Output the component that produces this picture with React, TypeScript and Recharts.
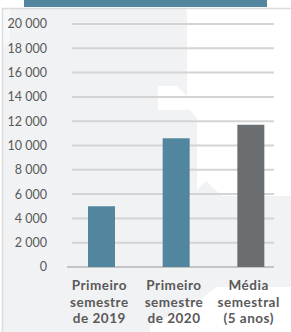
import React from "react";
import { BarChart, Bar, XAxis, YAxis, CartesianGrid, Cell } from "recharts";

const categories = [
  ["Primeiro", "semestre", "de 2019"],
  ["Primeiro", "semestre", "de 2020"],
  ["Média", "semestral", "(5 anos)"],
];
const values = [5000, 10600, 11700];
const barColors = ["#52869f", "#52869f", "#6b6e70"];
const yTicks = [0, 2000, 4000, 6000, 8000, 10000, 12000, 14000, 16000, 18000, 20000];

const data = categories.map((lines, i) => ({ name: lines.join(" "), lines, value: values[i] }));

const W = 291;
const H = 332;
const XH = 30;
const margin = { top: 24, right: 3, bottom: 35, left: 0 };
const baseY = H - margin.bottom - XH;

const fmt = (v: number) => String(v).replace(/\B(?=(\d{3})+(?!\d))/g, " ");

function XTick(props: any) {
  const { x, y, payload, index } = props;
  const lines = categories[index] ?? String(payload.value).split(" ");
  return (
    <text
      x={x - 2}
      y={y}
      textAnchor="middle"
      fill="#595959"
      fontSize={13.5}
      fontWeight={700}
      fontFamily="Lato"
      letterSpacing={0.5}
    >
      {lines.map((l: string, i: number) => (
        <tspan key={i} x={x - 2} dy={i === 0 ? 15 : 16.5}>
          {l}
        </tspan>
      ))}
    </text>
  );
}

function GridLine(props: any) {
  const { x1, x2, y1 } = props;
  const isBase = Math.abs(y1 - baseY) < 1;
  return (
    <line
      key={props.key}
      x1={isBase ? x1 + 3 : x1 + 8}
      x2={x2 - 14}
      y1={y1}
      y2={y1}
      stroke={isBase ? "#c4c4c4" : "#d4d4d4"}
      strokeWidth={2}
    />
  );
}

export default function App() {
  return (
    <div style={{ position: "absolute", left: 0, top: 0, width: W, height: H, background: "#fff" }}>
      <svg width={W} height={H} style={{ position: "absolute", left: 0, top: 0 }}>
        <rect x={2} y={8} width={W - 2} height={H - 8} fill="#f1f2f4" />
        <polygon points="186,9 291,9 291,196 222,196 206,181 197,190 197,118 190,110 158,110 158,86 177,86 187,96 187,16" fill="#ffffff" />
        <polygon points="216,287 291,287 291,332 150,332 150,326 200,300" fill="#ffffff" />
        <polygon points="2,9 10,9 10,40 2,48" fill="#f7f8f9" />
        <line x1={2} y1={8.5} x2={W} y2={8.5} stroke="#dcdcdc" strokeWidth={1.5} />
        <line x1={2.5} y1={8} x2={2.5} y2={H} stroke="#dcdcdc" strokeWidth={1.5} />
        <rect x={24} y={0} width={243} height={7} fill="#52869f" />
      </svg>
      <div style={{ position: "absolute", left: 0, top: 0 }}>
        <BarChart width={W} height={H} data={data} margin={margin}>
          <CartesianGrid vertical={false} horizontal={GridLine} />
          <XAxis dataKey="name" height={XH} axisLine={false} tickLine={false} tick={<XTick />} interval={0} />
          <YAxis
            width={64}
            domain={[0, 20000]}
            ticks={yTicks}
            interval={0}
            axisLine={false}
            tickLine={false}
            tickSize={0}
            tickMargin={17}
            tickFormatter={fmt}
            tick={{ fill: "#595959", fontSize: 12.5, fontFamily: "Lato" }}
          />
          <Bar dataKey="value" barSize={27} isAnimationActive={false}>
            {data.map((d, i) => (
              <Cell key={d.name} fill={barColors[i]} />
            ))}
          </Bar>
        </BarChart>
      </div>
    </div>
  );
}
